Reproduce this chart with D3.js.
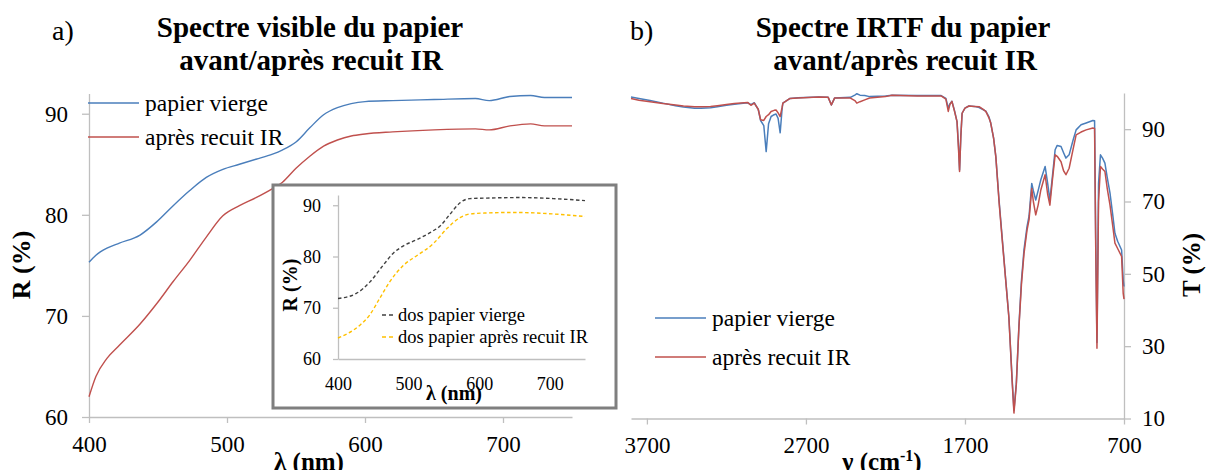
<!DOCTYPE html>
<html><head><meta charset="utf-8">
<script src="https://cdn.jsdelivr.net/npm/d3@7"></script>
<style>body{margin:0;background:#fff}svg{display:block}</style>
</head><body><svg id="c" width="1206" height="470" font-family="Liberation Serif, Times New Roman, serif"></svg>
<script>
// ---- Panel a: visible spectrum ----
const visWavelengths = [400,405,413,422,437,449,461,473,485,497,509,521,533,540,550,560,570,580,590,600,620,650,680,690,705,720,730,750];
const visBlank = [75.3,76.0,76.7,77.2,78.0,79.3,80.9,82.4,83.7,84.5,85.0,85.5,86.0,86.4,87.2,88.6,89.9,90.6,91.0,91.2,91.3,91.4,91.5,91.3,91.7,91.8,91.6,91.6];
const visAnnealed = [62.0,64.0,65.8,67.1,69.2,71.2,73.4,75.5,77.8,79.9,80.9,81.7,82.6,83.2,84.6,85.8,86.8,87.4,87.8,88.0,88.2,88.4,88.5,88.4,88.8,89.0,88.8,88.8];
const visTicksX = [400,500,600,700];
const visTicksY = [60,70,80,90];
const visSeriesNames = ["papier vierge","après recuit IR"];

// inset: back side of paper
const insetWavelengths = [400,426,445,464,478,493,512,531,545,559,573,587,611,658,705,750];
const insetBlank = [71.8,72.8,75.0,78.3,80.6,82.1,83.3,84.7,86.0,88.3,90.5,91.3,91.4,91.5,91.3,90.9];
const insetWavelengthsY = [400,431,445,459,473,493,512,535,554,573,587,611,650,705,750];
const insetAnnealed = [64.1,66.6,68.6,71.8,75.0,78.3,80.2,82.5,85.4,87.6,88.3,88.5,88.6,88.3,87.8];
const insetTicksX = [400,500,600,700];
const insetTicksY = [60,70,80,90];
const insetNames = ["dos papier vierge","dos papier après recuit IR"];

// ---- Panel b: FTIR spectrum ----
const irWavenumbers = [3800,3750,3680,3600,3520,3470,3400,3360,3300,3257,3200,3150,3067,3046,3025,3000,2985,2965,2950,2935,2919,2900,2888,2875,2862,2850,2845,2800,2750,2620,2560,2540,2520,2420,2390,2380,2360,2330,2300,2200,2159,2000,1850,1820,1805,1795,1782,1765,1750,1740,1734,1726,1718,1700,1675,1640,1611,1590,1569,1550,1538,1520,1506,1485,1464,1445,1424,1403,1392,1377,1361,1345,1329,1310,1297,1280,1270,1255,1240,1223,1196,1180,1166,1150,1133,1120,1096,1080,1065,1045,1020,1001,970,938,896,885,878,870,860,848,835,820,805,788,770,757,740,715,705,700];
const irBlank = [98.9,98.5,97.9,97.2,96.5,96.1,95.8,95.8,95.9,96.2,96.6,96.9,97.3,96.8,97.3,95.5,92.4,91.0,83.8,91.5,93.5,94.0,94.2,93.0,89.0,95.5,97.2,98.5,98.7,98.9,98.8,96.7,98.6,98.8,99.5,99.8,99.4,99.3,99.0,99.2,99.4,99.3,99.3,98.5,95.8,97.0,97.7,95.0,92.1,85.0,78.7,88.0,94.4,95.8,96.4,96.3,96.0,95.5,95.0,93.5,91.7,87.5,82.4,70.0,59.0,49.0,38.2,20.6,12.2,19.8,35.4,48.0,56.6,63.0,66.0,75.0,73.0,70.4,73.0,76.0,79.7,75.0,70.4,77.0,84.3,85.5,85.2,83.5,82.0,82.9,87.0,89.8,91.2,91.7,92.4,92.3,60.0,31.0,75.0,82.9,82.0,80.6,76.5,72.3,66.0,61.2,59.0,56.6,48.3,46.5];
const irAnnealed = [98.5,98.0,97.6,97.1,96.7,96.4,96.2,96.2,96.3,96.5,96.8,97.1,97.4,96.6,97.2,95.5,92.6,92.4,93.5,94.0,94.9,95.2,95.3,94.5,93.5,96.0,97.2,98.5,98.6,98.9,98.8,96.7,98.6,98.6,97.8,97.2,97.6,98.1,98.6,99.0,99.4,99.2,99.2,98.3,94.9,96.8,97.7,94.8,92.1,84.0,78.3,88.0,94.4,95.8,96.4,96.3,96.2,95.6,94.9,93.2,91.7,87.5,82.4,69.5,58.5,48.8,38.0,20.0,11.5,19.5,35.0,47.0,55.5,62.0,65.0,73.6,70.0,66.3,69.0,73.2,77.4,72.0,69.0,76.0,82.9,82.5,81.0,78.5,77.4,79.2,84.5,88.4,89.2,89.8,90.3,90.2,58.0,29.4,70.0,79.7,79.0,78.3,73.5,69.0,63.0,58.5,57.0,54.8,44.6,43.0];
const irTicksX = [3700,2700,1700,700];
const irTicksY = [10,30,50,70,90];

const BLUE = "#4a7ebb", RED = "#c0504d", AX = "#bfbfbf";
const FONT = "Liberation Serif, Times New Roman, serif";
const svg = d3.select("#c");

function txt(x, y, s, size, opts = {}){
  const t = svg.append("text").attr("x",x).attr("y",y).attr("font-size",size)
    .attr("font-family",FONT).attr("fill","#000").text(s);
  if (opts.bold) t.attr("font-weight","bold");
  if (opts.anchor) t.attr("text-anchor",opts.anchor);
  if (opts.rotate) t.attr("x",null).attr("y",null).attr("transform",`translate(${x},${y}) rotate(-90)`);
  return t;
}
function styleAxis(g, size){
  g.attr("font-family",FONT);
  g.select(".domain").attr("stroke", AX).attr("stroke-width",1.3);
  g.selectAll(".tick line").attr("stroke", AX).attr("stroke-width",1.3);
  g.selectAll(".tick text").attr("fill","#000").attr("font-size",size).attr("font-family",FONT);
}

// ===== Panel a =====
const xa = d3.scaleLinear().domain([400,750]).range([89,572]);
const ya = d3.scaleLinear().domain([60,92]).range([417,93.5]);
const gxA = svg.append("g").attr("transform","translate(0,417)")
  .call(d3.axisBottom(xa).tickValues(visTicksX).tickSize(6).tickSizeOuter(0).tickPadding(13));
styleAxis(gxA, 23);
const gyA = svg.append("g").attr("transform","translate(89,0)")
  .call(d3.axisLeft(ya).tickValues(visTicksY).tickSize(7).tickSizeOuter(0).tickPadding(14));
styleAxis(gyA, 23);

const lineA = (xs, ys) => d3.line().x((d,i)=>xa(xs[i])).y(d=>ya(d)).curve(d3.curveMonotoneX)(ys);
svg.append("path").attr("d", lineA(visWavelengths, visBlank)).attr("fill","none").attr("stroke",BLUE).attr("stroke-width",1.4);
svg.append("path").attr("d", lineA(visWavelengths, visAnnealed)).attr("fill","none").attr("stroke",RED).attr("stroke-width",1.4);

[[BLUE,103],[RED,137]].forEach(([c,y],i)=>{
  svg.append("line").attr("x1",88).attr("x2",139).attr("y1",y).attr("y2",y).attr("stroke",c).attr("stroke-width",1.4);
  txt(145, y+8, visSeriesNames[i], 23.5);
});

txt(52, 40, "a)", 28);
txt(310, 37, "Spectre visible du papier", 29, {bold:true, anchor:"middle"});
txt(311, 70, "avant/après recuit IR", 29, {bold:true, anchor:"middle"});
txt(30, 265, "R (%)", 26, {bold:true, anchor:"middle", rotate:true});
txt(309, 470, "λ (nm)", 25, {bold:true, anchor:"middle"});

// ===== Inset =====
svg.append("rect").attr("x",273).attr("y",185).attr("width",343).attr("height",223).attr("fill","#fff").attr("stroke","#7f7f7f").attr("stroke-width",3);
const xi = d3.scaleLinear().domain([400,750]).range([338,585]);
const yi = d3.scaleLinear().domain([60,92]).range([359,195]);
const gxI = svg.append("g").attr("transform","translate(0,359)")
  .call(d3.axisBottom(xi).tickValues(insetTicksX).tickSize(0).tickSizeOuter(0).tickPadding(18));
styleAxis(gxI, 18);
const gyI = svg.append("g").attr("transform","translate(338,0)")
  .call(d3.axisLeft(yi).tickValues(insetTicksY).tickSize(5).tickSizeOuter(0).tickPadding(12));
styleAxis(gyI, 18);
const lineI = (xs, ys) => d3.line().x((d,i)=>xi(xs[i])).y(d=>yi(d)).curve(d3.curveMonotoneX)(ys);
svg.append("path").attr("d", lineI(insetWavelengths, insetBlank)).attr("fill","none").attr("stroke","#404040").attr("stroke-width",1.4).attr("stroke-dasharray","3.5,2.5");
svg.append("path").attr("d", lineI(insetWavelengthsY, insetAnnealed)).attr("fill","none").attr("stroke","#ffc000").attr("stroke-width",1.4).attr("stroke-dasharray","3.5,2.5");
[["#404040",315],["#ffc000",337]].forEach(([c,y],i)=>{
  svg.append("line").attr("x1",382).attr("x2",394).attr("y1",y).attr("y2",y).attr("stroke",c).attr("stroke-width",1.4).attr("stroke-dasharray","4,3");
  txt(398, y+6, insetNames[i], 18.5);
});
txt(297, 285, "R (%)", 20, {bold:true, anchor:"middle", rotate:true});
txt(454, 400, "λ (nm)", 20, {bold:true, anchor:"middle"});

// ===== Panel b =====
const xb = d3.scaleLinear().domain([3800,700]).range([631,1124]);
const yb = d3.scaleLinear().domain([10,100]).range([418.5,93]);
const gxB = svg.append("g").attr("transform","translate(0,418.5)")
  .call(d3.axisBottom(xb).tickValues(irTicksX).tickFormat(d3.format("d")).tickSize(6).tickSizeOuter(0).tickPadding(12));
styleAxis(gxB, 23);
const gyB = svg.append("g").attr("transform","translate(1124,0)")
  .call(d3.axisRight(yb).tickValues(irTicksY).tickSize(7).tickSizeOuter(0).tickPadding(11));
styleAxis(gyB, 23);
const lineB = ys => d3.line().x((d,i)=>xb(irWavenumbers[i])).y(d=>yb(d))(ys);
svg.append("path").attr("d", lineB(irBlank)).attr("fill","none").attr("stroke",BLUE).attr("stroke-width",1.5).attr("stroke-linejoin","round");
svg.append("path").attr("d", lineB(irAnnealed)).attr("fill","none").attr("stroke",RED).attr("stroke-width",1.5).attr("stroke-linejoin","round");

[[BLUE,318],[RED,357]].forEach(([c,y],i)=>{
  svg.append("line").attr("x1",655).attr("x2",706).attr("y1",y).attr("y2",y).attr("stroke",c).attr("stroke-width",1.4);
  txt(712, y+8, visSeriesNames[i], 23.5);
});

txt(630, 40, "b)", 28);
txt(903, 37, "Spectre IRTF du papier", 29, {bold:true, anchor:"middle"});
txt(905, 70, "avant/après recuit IR", 29, {bold:true, anchor:"middle"});
txt(1200, 265, "T (%)", 25, {bold:true, anchor:"middle", rotate:true});
const nu = txt(882, 470, "", 25, {bold:true, anchor:"middle"});
nu.append("tspan").text("ν (cm");
nu.append("tspan").attr("dy",-9).attr("font-size",16).text("-1");
nu.append("tspan").attr("dy",9).text(")");
</script></body></html>
